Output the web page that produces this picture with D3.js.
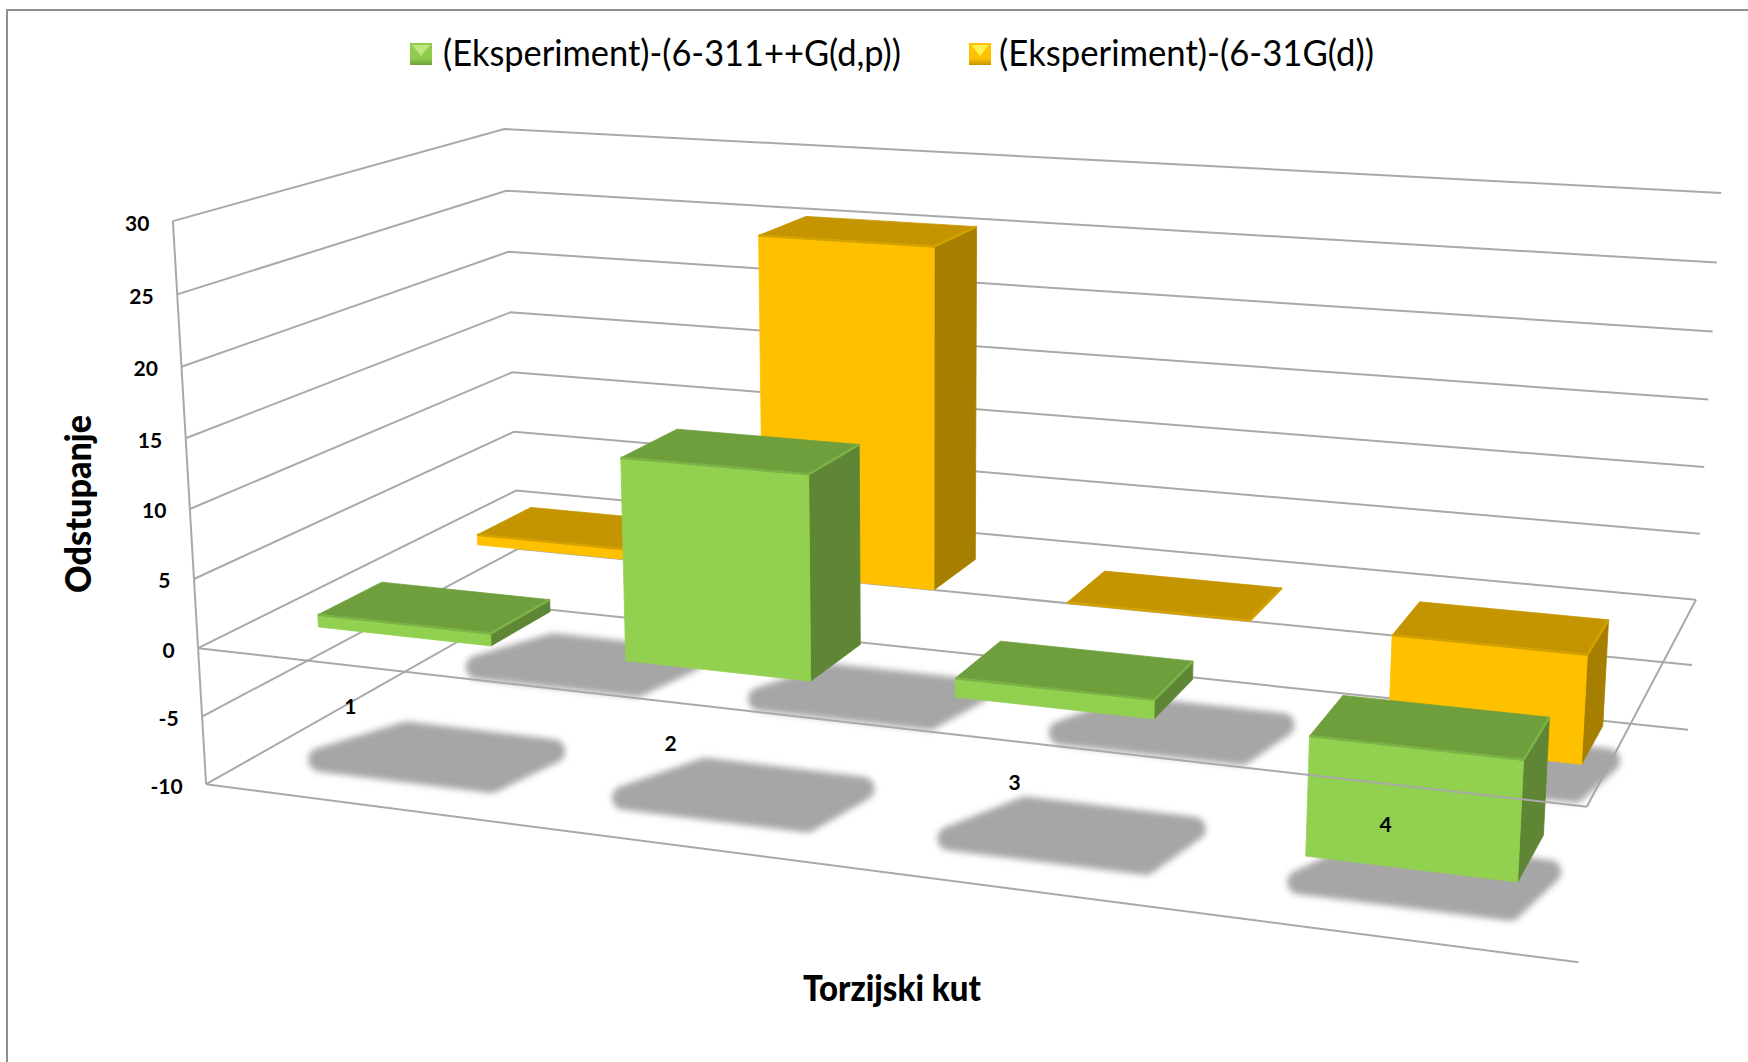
<!DOCTYPE html>
<html>
<head>
<meta charset="utf-8">
<script src="https://cdn.jsdelivr.net/npm/d3@7"></script>
<style>
  html, body { margin: 0; padding: 0; background: #fff; }
  svg { display: block; }
  text { font-family: Lato, "Open Sans", sans-serif; fill: #000; }
</style>
</head>
<body>
<div class="chart"></div>
<script>
const categories = ["1", "2", "3", "4"];
const seriesNames = ["(Eksperiment)-(6-311++G(d,p))", "(Eksperiment)-(6-31G(d))"];
const greenValues = [0.9, 14.35, 1.3, -8.15];
const yellowValues = [0.8, 25.7, 0.05, -8];
const valueTicks = [30, 25, 20, 15, 10, 5, 0, -5, -10];

const width = 1748;
const height = 1062;

const green = { front: "#92d050", top: "#6f9f3d", side: "#5f8634", edge: "#7cb347" };
const yellow = { front: "#ffc000", top: "#c49500", side: "#a67f00", edge: "#d3a100" };

// model space of the 3d box, 0..1 on each side (z 0 = back, 1 = front)
const xScale = d3.scaleBand().domain(categories).range([0, 1]).paddingInner(0.43).paddingOuter(0.215);
const yScale = d3.scaleLinear().domain([-10, 30]).range([0, 1]);
const zScale = d3.scaleBand().domain(["yellow", "green"]).range([0, 1]).paddingInner(0.62).paddingOuter(0.31);

// corners of the box, used to fit the camera
const anchors = [
  [0, 1, 1, 172.8, 221.4],
  [0, 0.25, 1, 197.9, 648.3],
  [0, 0, 1, 206.2, 784.2],
  [0, 1, 0, 504.5, 128.8],
  [0, 0.25, 0, 516, 491],
  [0, 0, 0, 520, 606],
  [1, 1, 0, 1721, 192.7],
  [1, 0.25, 0, 1696, 600],
  [1, 0, 0, 1688, 730],
  [1, 0.25, 1, 1587.5, 806.5],
  [1, 0, 1, 1578, 962],
];

function solve(A, b) {
  const n = b.length;
  const M = A.map((row, i) => [...row, b[i]]);
  for (let c = 0; c < n; c++) {
    let best = c;
    for (let r = c + 1; r < n; r++) if (Math.abs(M[r][c]) > Math.abs(M[best][c])) best = r;
    [M[c], M[best]] = [M[best], M[c]];
    for (let r = 0; r < n; r++) {
      if (r == c) continue;
      const f = M[r][c] / M[c][c];
      for (let k = c; k <= n; k++) M[r][k] -= f * M[c][k];
    }
  }
  return M.map((row, i) => row[n] / row[i]);
}

// least squares fit of a 3x4 projection
function fitCamera(points) {
  const rows = [];
  const rhs = [];
  points.forEach(([x, y, z, px, py]) => {
    const u = px / 1000;
    const v = py / 1000;
    rows.push([x, y, z, 1, 0, 0, 0, 0, -u * x, -u * y, -u * z]);
    rhs.push(u);
    rows.push([0, 0, 0, 0, x, y, z, 1, -v * x, -v * y, -v * z]);
    rhs.push(v);
  });
  const AtA = d3.range(11).map((i) => d3.range(11).map((j) => d3.sum(rows, (r) => r[i] * r[j])));
  const Atb = d3.range(11).map((i) => d3.sum(rows, (r, k) => r[i] * rhs[k]));
  return solve(AtA, Atb);
}

const cam = fitCamera(anchors);

function project(x, y, z) {
  const w = cam[8] * x + cam[9] * y + cam[10] * z + 1;
  return [
    (1000 * (cam[0] * x + cam[1] * y + cam[2] * z + cam[3])) / w,
    (1000 * (cam[4] * x + cam[5] * y + cam[6] * z + cam[7])) / w,
  ];
}
const at = (x, value, z) => project(x, yScale(value), z);

const svg = d3
  .select(".chart")
  .append("svg")
  .attr("width", width)
  .attr("height", height)
  .attr("viewBox", [0, 0, width, height]);

const defs = svg.append("defs");
const blur = defs.append("filter").attr("id", "soft")
  .attr("x", "-20%").attr("y", "-20%").attr("width", "140%").attr("height", "140%");
blur.append("feGaussianBlur").attr("stdDeviation", 3);

// chart frame, only top and left show
svg.append("path")
  .attr("d", "M7,1062V10H1748")
  .attr("fill", "none")
  .attr("stroke", "#8f8f8f")
  .attr("stroke-width", 2);

const line = d3.line();
const gridColor = "#a9a9a9";

function drawLine(g, a, b, w) {
  g.append("path")
    .attr("d", line([a, b]))
    .attr("fill", "none")
    .attr("stroke", gridColor)
    .attr("stroke-width", w || 2);
}

// walls: left wall and back wall lines for each tick
const grid = svg.append("g").attr("class", "grid");
valueTicks.forEach((t) => {
  grid.append("path")
    .attr("d", line([at(0, t, 1), at(0, t, 0), at(1, t, 0)]))
    .attr("fill", "none")
    .attr("stroke", gridColor)
    .attr("stroke-width", 2);
});
drawLine(grid, at(0, 30, 1), at(0, -10, 1));
drawLine(grid, at(0, -10, 1), at(1, -10, 1));
drawLine(grid, at(1, 0, 0), at(1, 0, 1));

// one record per bar, back row first so the front row paints over it
const bars = [];
[["yellow", yellowValues, yellow], ["green", greenValues, green]].forEach(([key, values, colors]) => {
  values.forEach((v, i) => bars.push({ key, value: v, cat: categories[i], colors }));
});

// floor shadows, the light leans them to the right at the far edge
const shadows = svg.append("g").attr("class", "shadows").attr("filter", "url(#soft)");
shadows.selectAll("path")
  .data(bars)
  .join("path")
  .attr("d", (d) => {
    const x0 = xScale(d.cat);
    const x1 = x0 + xScale.bandwidth();
    const z0 = zScale(d.key) + 0.035;
    const z1 = zScale(d.key) + zScale.bandwidth();
    return line([
      at(x0 + 0.026, -10, z0),
      at(x1 + 0.008, -10, z0),
      at(x1 - 0.004, -10, z1),
      at(x0 - 0.004, -10, z1),
    ]) + "Z";
  })
  .attr("fill", "#a6a6a6")
  .attr("stroke", "#a6a6a6")
  .attr("stroke-width", 24)
  .attr("stroke-linejoin", "round");

// the bars themselves: top, front and right side
const barGroup = svg.append("g").attr("class", "bars");
bars.forEach((d) => {
  const x0 = xScale(d.cat);
  const x1 = x0 + xScale.bandwidth();
  const z0 = zScale(d.key);
  const z1 = z0 + zScale.bandwidth();
  const hi = Math.max(d.value, 0);
  const lo = Math.min(d.value, 0);
  const g = barGroup.append("g");
  const face = (pts, fill) =>
    g.append("path")
      .attr("d", line(pts) + "Z")
      .attr("fill", fill)
      .attr("stroke", fill)
      .attr("stroke-width", 0.8)
      .attr("stroke-linejoin", "round");
  face([at(x0, hi, z0), at(x1, hi, z0), at(x1, hi, z1), at(x0, hi, z1)], d.colors.top);
  face([at(x1, hi, z1), at(x1, hi, z0), at(x1, lo, z0), at(x1, lo, z1)], d.colors.side);
  face([at(x0, hi, z1), at(x1, hi, z1), at(x1, lo, z1), at(x0, lo, z1)], d.colors.front);
  // soft bevel along the top edges
  g.append("path")
    .attr("d", line([at(x0, hi, z1), at(x1, hi, z1), at(x1, hi, z0)]))
    .attr("fill", "none")
    .attr("stroke", d.colors.edge)
    .attr("stroke-width", 2.5)
    .attr("stroke-linejoin", "round");
});

// the 0 line of the front edge sits on top of the bars
drawLine(svg, at(0, 0, 1), at(1, 0, 1));

// value labels
svg.append("g").selectAll("text")
  .data(valueTicks)
  .join("text")
  .attr("x", (t) => at(0, t, 1)[0] - 23.5)
  .attr("y", (t) => at(0, t, 1)[1] + 4)
  .attr("text-anchor", "end")
  .attr("dominant-baseline", "middle")
  .attr("font-size", 21)
  .attr("font-weight", 700)
  .text((t) => t);

// category labels
const labelPos = (c) => at(xScale(c) + xScale.bandwidth() / 2, -3.2, 1);
svg.append("g").selectAll("text")
  .data(categories)
  .join("text")
  .attr("x", (c) => labelPos(c)[0] - 2)
  .attr("y", (c) => labelPos(c)[1] - 1 - (labelPos(c)[0] - 330) * 0.006)
  .attr("text-anchor", "middle")
  .attr("dominant-baseline", "middle")
  .attr("font-size", 21)
  .attr("font-weight", 700)
  .text((c) => c);

// legend
const legendItems = [
  { id: "gGreen", name: seriesNames[0], x: 410, tx: 443, len: 458, light: "#bde67d", base: "#8fcb4e", dark: "#6f9f3d" },
  { id: "gYellow", name: seriesNames[1], x: 969, tx: 999, len: 375, light: "#fff04a", base: "#ffc000", dark: "#c49500" },
];
const legend = svg.append("g").attr("class", "legend");
legendItems.forEach((d) => {
  const grad = defs.append("linearGradient").attr("id", d.id).attr("x1", 0).attr("y1", 0).attr("x2", 0).attr("y2", 1);
  grad.append("stop").attr("offset", "0%").attr("stop-color", d.base);
  grad.append("stop").attr("offset", "70%").attr("stop-color", d.base);
  grad.append("stop").attr("offset", "100%").attr("stop-color", d.dark);
  legend.append("rect").attr("x", d.x).attr("y", 43).attr("width", 22).attr("height", 22).attr("fill", `url(#${d.id})`);
  legend.append("path").attr("d", `M${d.x + 2},45h18l-9,11z`).attr("fill", d.light);
  legend.append("text")
    .attr("x", d.tx)
    .attr("y", 66)
    .attr("font-size", 36)
    .attr("textLength", d.len)
    .attr("lengthAdjust", "spacingAndGlyphs")
    .text(d.name);
});

// axis titles
svg.append("text")
  .attr("transform", "translate(91,593) rotate(-90)")
  .attr("font-size", 36)
  .attr("font-weight", 900)
  .attr("textLength", 178)
  .attr("lengthAdjust", "spacingAndGlyphs")
  .text("Odstupanje");

svg.append("text")
  .attr("x", 803)
  .attr("y", 1001)
  .attr("font-size", 36)
  .attr("font-weight", 900)
  .attr("textLength", 178)
  .attr("lengthAdjust", "spacingAndGlyphs")
  .text("Torzijski kut");
</script>
</body>
</html>
